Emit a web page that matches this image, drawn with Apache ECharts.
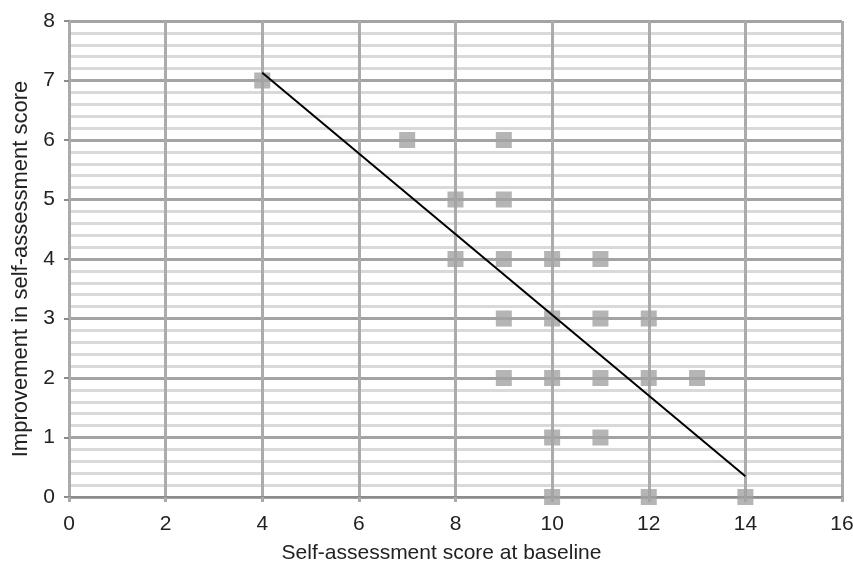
<!DOCTYPE html>
<html>
<head>
<meta charset="utf-8">
<script src="https://cdn.jsdelivr.net/npm/echarts@6/dist/echarts.min.js"></script>
<style>html,body{margin:0;padding:0;background:#fff;}#c{width:853px;height:565px;}</style>
</head>
<body>
<div id="c"></div>
<script>
// Scatter data: baseline score (x) and improvement (y)
const baselineScores = [4, 7, 9, 8, 9, 8, 9, 10, 11, 9, 10, 11, 12, 9, 10, 11, 12, 13, 10, 11, 10, 12, 14];
const improvementScores = [7, 6, 6, 5, 5, 4, 4, 4, 4, 3, 3, 3, 3, 2, 2, 2, 2, 2, 1, 1, 0, 0, 0];
// Linear trend line endpoints
const trendX = [4, 14];
const trendY = [7.13, 0.35];

const xTitle = 'Self-assessment score at baseline';
const yTitle = 'Improvement in self-assessment score';

const chart = echarts.init(document.getElementById('c'));
const FF = 'Liberation Sans, Arial, sans-serif';
chart.setOption({
  animation: false,
  backgroundColor: '#fff',
  grid: {left: 69, right: 11, top: 21, bottom: 68, containLabel: false, outerBoundsMode: 'none'},
  xAxis: {
    type: 'value', min: 0, max: 16, interval: 2,
    name: xTitle, nameLocation: 'middle', nameGap: 46,
    nameTextStyle: {fontFamily: FF, fontSize: 21, color: '#222', padding: [0, 28, 0, 0]},
    axisLine: {show: true, onZero: false, lineStyle: {color: '#8c8c8c', width: 2}},
    axisTick: {show: true, length: 5, lineStyle: {color: '#aaaaaa', width: 3}},
    axisLabel: {margin: 17, fontFamily: FF, fontSize: 21, color: '#222'},
    splitLine: {show: true, lineStyle: {color: '#ababab', width: 3}}
  },
  yAxis: {
    type: 'value', min: 0, max: 8, interval: 1,
    name: yTitle, nameLocation: 'middle', nameGap: 36, nameRotate: 90,
    nameTextStyle: {fontFamily: FF, fontSize: 22, color: '#222', padding: [0, 20, 0, 0]},
    axisLine: {show: true, onZero: false, lineStyle: {color: '#ababab', width: 3}},
    axisTick: {show: true, length: 5, lineStyle: {color: '#8c8c8c', width: 2}},
    axisLabel: {margin: 14, fontFamily: FF, fontSize: 21, color: '#222'},
    splitLine: {show: true, lineStyle: {color: '#a3a3a3', width: 3}},
    minorTick: {show: false, splitNumber: 5},
    minorSplitLine: {show: true, lineStyle: {color: '#d9d9d9', width: 3}}
  },
  series: [
    {
      type: 'scatter',
      symbol: 'rect', symbolSize: 16,
      itemStyle: {color: '#a3a3a3'},
      data: baselineScores.map((x, i) => [x, improvementScores[i]]),
      z: 3
    },
    {
      type: 'line',
      symbol: 'none',
      lineStyle: {color: '#000', width: 2},
      data: trendX.map((x, i) => [x, trendY[i]]),
      z: 4
    }
  ]
});
</script>
</body>
</html>
